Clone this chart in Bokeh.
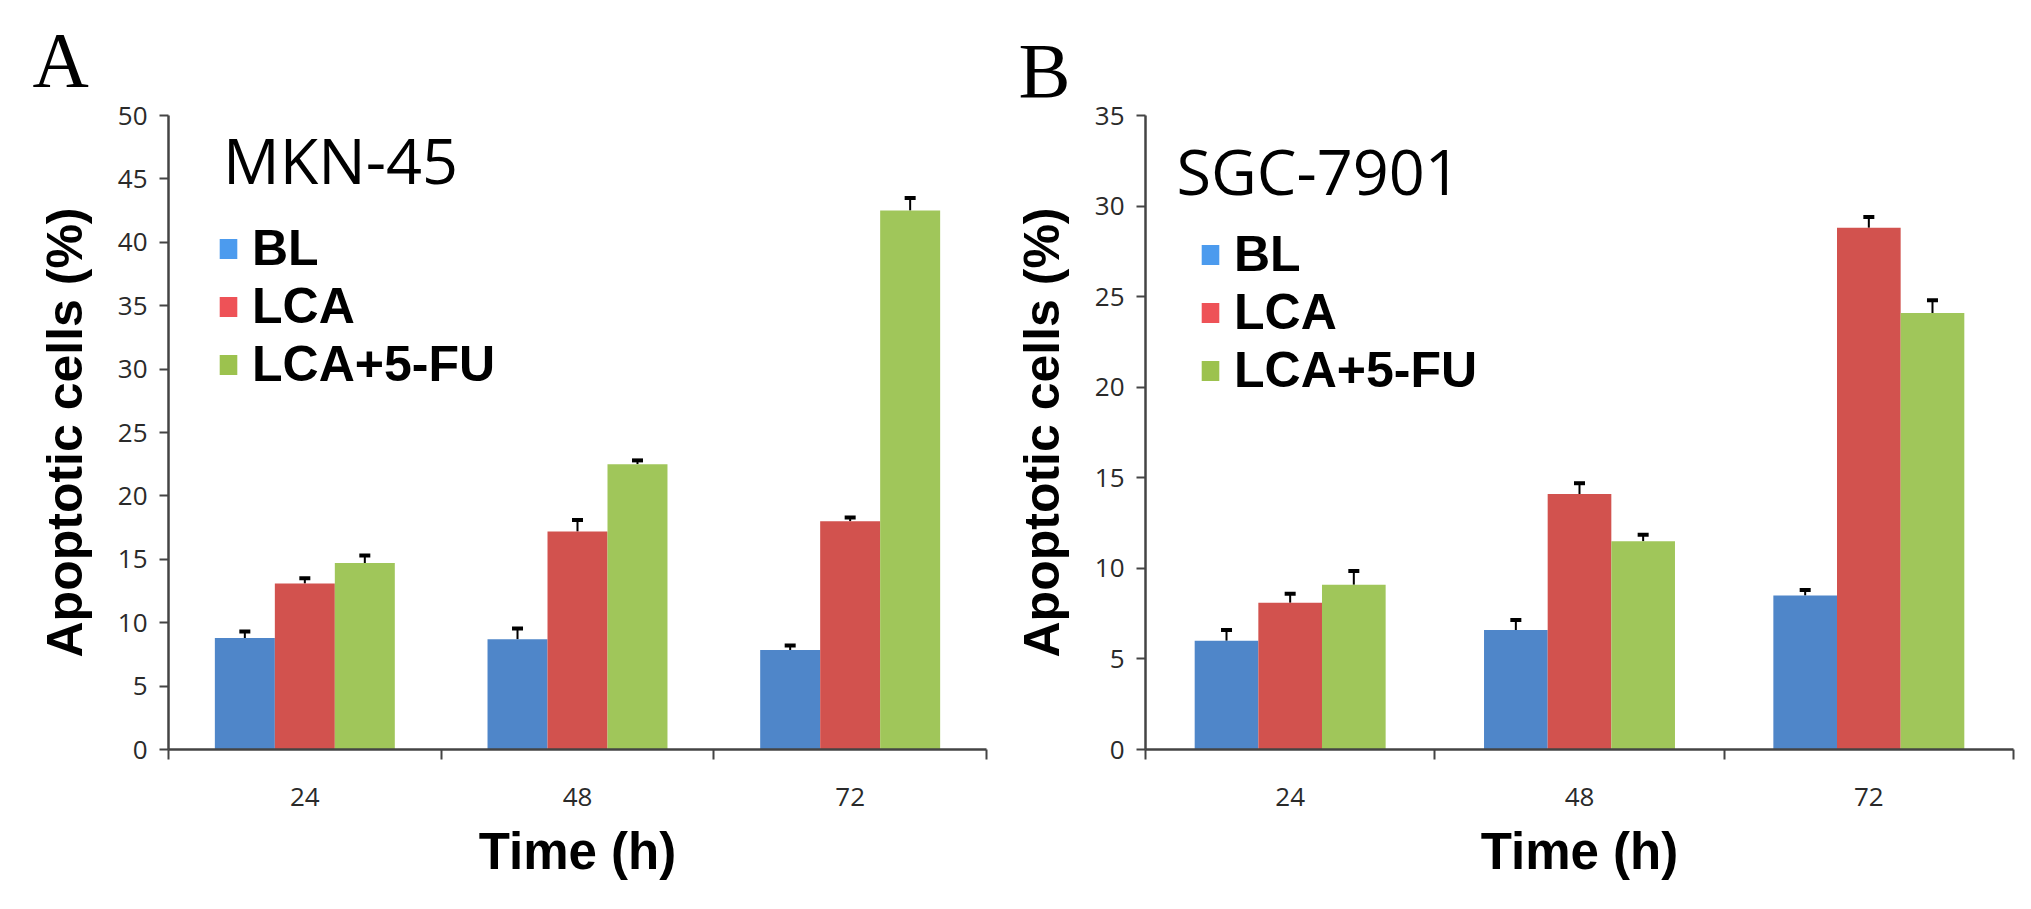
from bokeh.plotting import figure
from bokeh.models import (FactorRange, Range1d, LinearAxis, CategoricalAxis, FixedTicker,
                          Whisker, TeeHead, Legend, LegendItem, Label, ColumnDataSource, Title)
from bokeh.transform import dodge
from bokeh.layouts import row
from bokeh.embed import file_html
from bokeh.resources import INLINE

# ---------------- data ----------------
times = ["24", "48", "72"]
groups = ["BL", "LCA", "LCA+5-FU"]
colors = ["#4F86C9", "#D2524E", "#A0C65A"]
legend_colors = ["#4C9BEE", "#EE5257", "#9CC24E"]

mkn_bl = [8.8, 8.7, 7.85]
mkn_lca = [13.1, 17.2, 18.0]
mkn_combo = [14.7, 22.5, 42.5]
mkn_bl_err = [0.5, 0.85, 0.35]
mkn_lca_err = [0.4, 0.9, 0.3]
mkn_combo_err = [0.6, 0.3, 1.0]

sgc_bl = [6.0, 6.6, 8.5]
sgc_lca = [8.1, 14.1, 28.8]
sgc_combo = [9.1, 11.5, 24.1]
sgc_bl_err = [0.6, 0.55, 0.3]
sgc_lca_err = [0.5, 0.6, 0.6]
sgc_combo_err = [0.75, 0.35, 0.7]

mkn_yticks = [0, 5, 10, 15, 20, 25, 30, 35, 40, 45, 50]
sgc_yticks = [0, 5, 10, 15, 20, 25, 30, 35]

AXIS_COLOR = "#444444"
TICK_FONT = "Open Sans"
BOLD_FONT = "Liberation Sans"


def make_panel(letter, cell, series, errors, yticks, ymax, width, height,
               border_left, border_right, border_top, border_bottom,
               letter_offset, letter_standoff, cell_pos, legend_loc):
    p = figure(x_range=FactorRange(*times), y_range=Range1d(0, ymax),
               width=width, height=height, output_backend="svg",
               toolbar_location=None, x_axis_location=None,
               min_border_left=border_left, min_border_right=border_right,
               min_border_top=border_top, min_border_bottom=border_bottom)
    p.outline_line_color = None
    p.grid.visible = False
    p.background_fill_color = "white"
    p.border_fill_color = "white"

    # panel letter
    p.add_layout(Title(text=letter, align="left", offset=letter_offset,
                       standoff=letter_standoff, text_font="Liberation Serif",
                       text_font_size="78px", text_font_style="normal",
                       text_color="black"), "above")

    # y axis
    ya = p.yaxis[0]
    ya.ticker = FixedTicker(ticks=yticks)
    ya.axis_line_color = AXIS_COLOR
    ya.axis_line_width = 2.5
    ya.major_tick_line_color = AXIS_COLOR
    ya.major_tick_line_width = 2
    ya.major_tick_out = 9
    ya.major_tick_in = 0
    ya.minor_tick_line_color = None
    ya.major_label_text_font = TICK_FONT
    ya.major_label_text_font_size = "26px"
    ya.major_label_text_color = "#2a2a2a"
    ya.major_label_standoff = 12
    ya.axis_label = "Apoptotic cells (%)"
    ya.axis_label_text_font = BOLD_FONT
    ya.axis_label_text_font_style = "bold"
    ya.axis_label_text_font_size = "50px"
    ya.axis_label_text_color = "black"
    ya.axis_label_standoff = 22

    # x axis line with separator ticks at the category boundaries
    sep = LinearAxis(ticker=FixedTicker(ticks=[], minor_ticks=list(range(len(times) + 1))),
                     major_label_standoff=0,
                     axis_line_color=AXIS_COLOR, axis_line_width=2.5,
                     major_tick_line_color=None, major_tick_out=10, major_tick_in=0,
                     minor_tick_line_color=AXIS_COLOR, minor_tick_line_width=2,
                     minor_tick_out=10, minor_tick_in=0)
    p.add_layout(sep, "below")
    cat = CategoricalAxis(axis_line_color=None, major_tick_line_color=None,
                          minor_tick_line_color=None,
                          major_label_text_font=TICK_FONT,
                          major_label_text_font_size="26px",
                          major_label_text_color="#2a2a2a",
                          major_label_standoff=22,
                          axis_label="Time (h)",
                          axis_label_text_font=BOLD_FONT,
                          axis_label_text_font_style="bold",
                          axis_label_text_font_size="51px",
                          axis_label_text_color="black",
                          axis_label_standoff=14)
    p.add_layout(cat, "below")

    # bars + error bars
    offsets = [-0.22, 0.0, 0.22]
    items = []
    for g, vals, errs, off, col, lcol in zip(groups, series, errors, offsets,
                                             colors, legend_colors):
        src = ColumnDataSource(dict(time=times, value=vals,
                                    upper=[v + e for v, e in zip(vals, errs)]))
        p.vbar(x=dodge("time", off, range=p.x_range), top="value", width=0.22,
               source=src, fill_color=col, line_color=None)
        w = Whisker(base=dodge("time", off, range=p.x_range), lower="value", upper="upper",
                    source=src, dimension="height", line_color="black", line_width=2,
                    upper_head=TeeHead(size=11, line_color="black", line_width=4),
                    lower_head=None)
        p.add_layout(w)
        # legend key: zero-height bar carrying the lighter key colour of the original
        key = p.vbar(x=times[:1], top=[0], bottom=[0], width=0.22,
                     fill_color=lcol, line_color=None)
        items.append(LegendItem(label=g, renderers=[key]))

    legend = Legend(items=items, location=legend_loc, orientation="vertical",
                    background_fill_alpha=0, border_line_color=None,
                    padding=0, margin=0, spacing=0,
                    glyph_width=22, glyph_height=25, label_height=40,
                    label_standoff=13,
                    label_text_font=BOLD_FONT, label_text_font_style="bold",
                    label_text_font_size="50px", label_text_color="black")
    p.add_layout(legend, "center")

    p.add_layout(Label(x=cell_pos[0], y=cell_pos[1], text=cell,
                       text_font="Open Sans", text_font_size="63px",
                       text_color="black", text_baseline="alphabetic"))
    return p


pA = make_panel("A", "MKN-45",
                [mkn_bl, mkn_lca, mkn_combo],
                [mkn_bl_err, mkn_lca_err, mkn_combo_err],
                mkn_yticks, 50, 997, 893, 168, 11, 115, 144,
                -136, 25, (0.20, 46.5), (49, 356))
pB = make_panel("B", "SGC-7901",
                [sgc_bl, sgc_lca, sgc_combo],
                [sgc_bl_err, sgc_lca_err, sgc_combo_err],
                sgc_yticks, 35, 1018, 893, 148, 2, 101, 137,
                -127, 3, (0.107, 31.95), (54, 350))

layout = row(pA, pB)
open("out.html", "w").write(file_html(layout, INLINE))
